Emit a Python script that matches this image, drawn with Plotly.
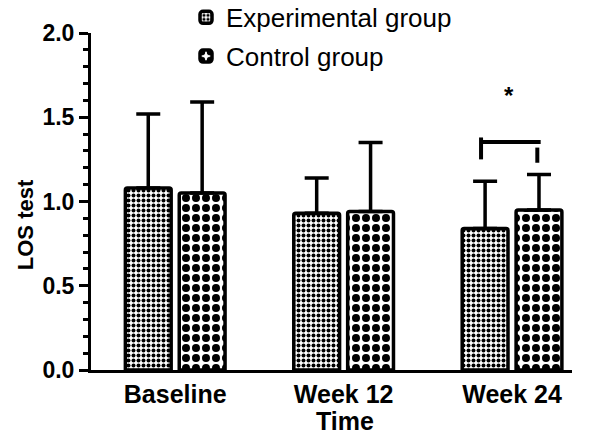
import plotly.graph_objects as go

categories = ["Baseline", "Week 12", "Week 24"]
exp_means = [1.08, 0.93, 0.84]
exp_sd = [0.44, 0.21, 0.28]
ctrl_means = [1.05, 0.94, 0.95]
ctrl_sd = [0.54, 0.41, 0.21]
y_ticks = [0.0, 0.5, 1.0, 1.5, 2.0]

FONT = "Liberation Sans, Arial, sans-serif"


def pattern(size):
    return dict(shape=".", fgcolor="black", bgcolor="white", fgopacity=1,
                size=size, solidity=0.5, fillmode="overlay")


fig = go.Figure()
fig.add_trace(go.Bar(
    name="Experimental group", x=categories, y=exp_means,
    error_y=dict(type="data", array=exp_sd, arrayminus=[0]*3, symmetric=False,
                 color="black", thickness=3.5, width=12),
    marker=dict(color="white", line=dict(color="black", width=3.5), cornerradius=2,
                pattern=pattern(5)),
    legendgroup="a",
))
fig.add_trace(go.Bar(
    name="Control group", x=categories, y=ctrl_means,
    error_y=dict(type="data", array=ctrl_sd, arrayminus=[0]*3, symmetric=False,
                 color="black", thickness=3.5, width=12),
    marker=dict(color="white", line=dict(color="black", width=3.5), cornerradius=2,
                pattern=pattern(10)),
    legendgroup="b",
))

# significance bracket between the Week 24 bars
bx = 2
fig.add_shape(type="line", x0=bx-0.184, x1=bx+0.17, y0=1.353, y1=1.353, xref="x", yref="y",
              line=dict(color="black", width=4))
fig.add_shape(type="line", x0=bx-0.184, x1=bx-0.184, y0=1.38, y1=1.25, xref="x", yref="y",
              line=dict(color="black", width=4))
fig.add_shape(type="line", x0=bx+0.15, x1=bx+0.15, y0=1.32, y1=1.23, xref="x", yref="y",
              line=dict(color="black", width=4))
fig.add_annotation(x=bx-0.02, y=1.63, xref="x", yref="y", text="<b>*</b>", showarrow=False,
                   font=dict(size=24, color="black", family=FONT))

# axis titles
fig.add_annotation(x=-0.137, y=0.43, xref="paper", yref="paper", text="<b>LOS test</b>",
                   showarrow=False, textangle=-90, xanchor="center", yanchor="middle",
                   font=dict(size=22, family=FONT, color="black"))
fig.add_annotation(x=0.529, y=-0.151, xref="paper", yref="paper", text="<b>Time</b>",
                   showarrow=False, xanchor="center", yanchor="middle",
                   font=dict(size=25, family=FONT, color="black"))

fig.update_layout(
    width=600, height=438,
    margin=dict(l=91, r=28, t=33, b=68, autoexpand=False),
    paper_bgcolor="white", plot_bgcolor="white",
    barmode="group", bargap=0.36, bargroupgap=0.15,
    font=dict(family=FONT, color="black"),
    showlegend=True,
    legend=dict(x=0.31, y=1.116, xref="container", yref="paper", xanchor="left", yanchor="top",
                bgcolor="rgba(0,0,0,0)", font=dict(size=26, family=FONT),
                tracegroupgap=2, traceorder="grouped"),
    xaxis=dict(type="category", range=[-0.5, 2.356], showline=True, linecolor="black", linewidth=3,
               ticks="", showgrid=False, zeroline=False, automargin=False,
               tickfont=dict(size=25, family=FONT, weight="bold")),
    yaxis=dict(range=[0, 2.0], tickvals=y_ticks, tickformat=".1f", showline=True, linecolor="black",
               linewidth=3, ticks="outside", ticklen=9, tickwidth=3, tickcolor="black",
               showgrid=False, zeroline=False, automargin=False,
               minor=dict(dtick=0.1, ticks="outside", ticklen=5, tickwidth=2.5, tickcolor="black"),
               tickfont=dict(size=23, family=FONT, weight="bold")),
)

fig.write_html("out.html", config={"displayModeBar": False},
               post_script="document.body.style.margin='0';")
